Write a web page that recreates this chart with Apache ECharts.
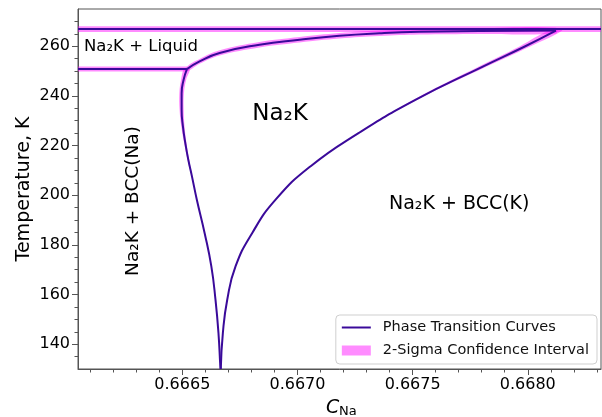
<!DOCTYPE html>
<html><head><meta charset="utf-8">
<script src="https://cdn.jsdelivr.net/npm/echarts@6/dist/echarts.min.js"></script>
<style>html,body{margin:0;padding:0;background:#fff}#c{width:602px;height:417px}</style>
</head><body><div id="c"></div>
<script>
// Axis ranges and ticks
const xMin = 0.666047, xMax = 0.668318, yMin = 130, yMax = 275;
const xMajorTicks = [0.6665, 0.6670, 0.6675, 0.6680];
const xTickLabels = ['0.6665', '0.6670', '0.6675', '0.6680'];
const xMinorTicks = [0.6661,0.6662,0.6663,0.6664,0.6666,0.6667,0.6668,0.6669,0.6671,0.6672,0.6673,0.6674,0.6676,0.6677,0.6678,0.6679,0.6681,0.6682,0.6683];
const yMajorTicks = [140,160,180,200,220,240,260];
const yTickLabels = ['140','160','180','200','220','240','260'];
const yMinorTicks = [135,145,150,155,165,170,175,185,190,195,205,210,215,225,230,235,245,250,255,265,270];

// Upper horizontal line with sigma in T
const topLineC = [0.666047, 0.668318];
const topLineT = [266.9, 266.9];
const topLineSigT = [1.15, 1.15];

// Lower horizontal line with sigma in T
const lowLineC = [0.666047, 0.666520];
const lowLineT = [250.8, 250.8];
const lowLineSigT = [1.0, 1.0];

// Left boundary (Na2K | Na2K+BCC(Na)) with sigma in C
const leftC = [0.666520,0.6665056,0.666497,0.666497,0.6665026,0.666513,0.666526,0.666542,0.666563,0.666597,0.666626,0.666644,0.666657,0.666665,0.6666661];
const leftT = [250.8,246.5,241.1,234.4,227.7,221.0,214.3,207.5,198.2,184.7,171.3,157.9,144.4,131.0,130];
const leftSigC = [1.2e-5,1.1e-5,1.0e-5,9e-6,7e-6,5e-6,3.5e-6,2e-6,0.8e-6,0,0,0,0,0,0];

// Right boundary (Na2K | Na2K+BCC(K)) with sigma in C
const rightC = [0.666667,0.666676,0.666695,0.666731,0.666803,0.666905,0.667056,0.667265,0.667512,0.667807,0.667987,0.668122];
const rightT = [130,144.45,157.9,171.3,184.7,198.2,211.6,225.0,238.4,251.9,259.9,266.3];
const rightSigC = [0,0,0,0,0,0.5e-6,1e-6,3e-6,8e-6,1.7e-5,2.3e-5,2.7e-5];

// Upper boundary (Na2K | Na2K+Liquid) with sigma in T
const liqC = [0.666520,0.666575,0.666662,0.666835,0.667009,0.667182,0.667356,0.667529,0.667789,0.668122];
const liqT = [250.8,253.9,257.3,260.6,262.6,264.2,265.2,265.8,266.1,266.3];
const liqSigT = [1.0,1.0,1.05,1.1,1.1,1.1,1.1,1.1,1.15,1.15];

const lineColor = '#3a0a9a';
const bandColor = 'rgba(255,0,255,0.45)';
const FONT = 'DejaVu Sans';

const zip = (a, b) => a.map((v, i) => [v, b[i]]);
const bands = [
  {c: topLineC, t: topLineT, s: topLineSigT, dir: 't'},
  {c: lowLineC, t: lowLineT, s: lowLineSigT, dir: 't'},
  {c: leftC, t: leftT, s: leftSigC, dir: 'c'},
  {c: rightC, t: rightT, s: rightSigC, dir: 'c'},
  {c: liqC, t: liqT, s: liqSigT, dir: 't'}
];

function renderBand(params, api) {
  const b = bands[params.dataIndex];
  const up = [], lo = [];
  for (let i = 0; i < b.c.length; i++) {
    if (b.dir === 'c') {
      up.push(api.coord([b.c[i] + b.s[i], b.t[i]]));
      lo.push(api.coord([b.c[i] - b.s[i], b.t[i]]));
    } else {
      up.push(api.coord([b.c[i], b.t[i] + b.s[i]]));
      lo.push(api.coord([b.c[i], b.t[i] - b.s[i]]));
    }
  }
  return {
    type: 'polygon',
    shape: {points: up.concat(lo.reverse()), smooth: b.c.length > 2 ? 0.4 : 0},
    style: {fill: bandColor}
  };
}

const curveSeries = (data) => ({
  type: 'line', name: 'Phase Transition Curves', data: data,
  xAxisIndex: 0, yAxisIndex: 0,
  symbol: 'none', showSymbol: false, smooth: data.length > 2 ? 0.5 : false,
  lineStyle: {color: lineColor, width: 2}, itemStyle: {color: lineColor},
  z: 3, silent: true, animation: false
});

const axisColor = '#555';
const chart = echarts.init(document.getElementById('c'), null, {renderer: 'canvas'});
chart.setOption({
  animation: false,
  backgroundColor: '#fff',
  textStyle: {fontFamily: FONT},
  grid: {left: 78, right: 1, top: 9, bottom: 48, show: true, borderColor: axisColor, borderWidth: 1, backgroundColor: 'transparent'},
  legend: {
    orient: 'vertical', right: 5, top: 315,
    padding: [5, 8, 6, 6], itemGap: 8, itemWidth: 29, itemHeight: 10,
    backgroundColor: 'rgba(255,255,255,0.85)', borderColor: '#cfcfcf', borderWidth: 1, borderRadius: 4,
    textStyle: {fontFamily: FONT, fontSize: 14.5, color: '#111', padding: [0, 0, 0, 7]},
    data: [
      {name: 'Phase Transition Curves', icon: 'path://M0,0 L29,0 L29,2 L0,2 Z'},
      {name: '2-Sigma Confidence Interval', icon: 'rect'}
    ],
    selectedMode: false
  },
  xAxis: [
    {type: 'value', min: xMin, max: xMax, position: 'bottom',
      axisLine: {show: true, onZero: false, lineStyle: {color: axisColor, width: 1}},
      axisTick: {show: true, length: 6, customValues: xMajorTicks, lineStyle: {color: axisColor}},
      axisLabel: {show: true, customValues: xMajorTicks, margin: 8, color: '#000', fontSize: 16, fontFamily: FONT,
        formatter: (v) => { const i = xMajorTicks.findIndex(t => Math.abs(t - v) < 1e-9); return i >= 0 ? xTickLabels[i] : ''; }},
      splitLine: {show: false}},
    {type: 'value', min: xMin, max: xMax, position: 'bottom',
      axisLine: {show: false, onZero: false},
      axisTick: {show: true, length: 3.5, customValues: xMinorTicks, lineStyle: {color: axisColor}},
      axisLabel: {show: false}, splitLine: {show: false}}
  ],
  yAxis: [
    {type: 'value', min: yMin, max: yMax, position: 'left',
      name: 'Temperature, K', nameLocation: 'middle', nameGap: 44, nameRotate: 90, nameMoveOverlap: false,
      nameTextStyle: {fontFamily: FONT, fontSize: 19, color: '#000'},
      axisLine: {show: true, onZero: false, lineStyle: {color: axisColor, width: 1}},
      axisTick: {show: true, length: 6, customValues: yMajorTicks, lineStyle: {color: axisColor}},
      axisLabel: {show: true, customValues: yMajorTicks, margin: 8, color: '#000', fontSize: 16, fontFamily: FONT,
        formatter: (v) => { const i = yMajorTicks.findIndex(t => Math.abs(t - v) < 1e-9); return i >= 0 ? yTickLabels[i] : ''; }},
      splitLine: {show: false}},
    {type: 'value', min: yMin, max: yMax, position: 'left',
      axisLine: {show: false, onZero: false},
      axisTick: {show: true, length: 3.5, customValues: yMinorTicks, lineStyle: {color: axisColor}},
      axisLabel: {show: false}, splitLine: {show: false}}
  ],
  series: [
    {type: 'custom', name: '2-Sigma Confidence Interval', xAxisIndex: 0, yAxisIndex: 0,
      renderItem: renderBand, data: bands.map((b, i) => [b.c[0], b.t[0], i]),
      encode: {x: 0, y: 1}, itemStyle: {color: bandColor}, z: 2, silent: true, animation: false},
    curveSeries(zip(topLineC, topLineT)),
    curveSeries(zip(lowLineC, lowLineT)),
    curveSeries(zip(leftC, leftT)),
    curveSeries(zip(rightC, rightT)),
    curveSeries(zip(liqC, liqT))
  ],
  graphic: [
    {type: 'text', x: 84, y: 47, silent: true, style: {text: 'Na₂K + Liquid', font: '16.5px "DejaVu Sans"', fill: '#000', textAlign: 'left', textVerticalAlign: 'middle'}},
    {type: 'text', x: 280, y: 114, silent: true, style: {text: 'Na₂K', font: '23px "DejaVu Sans"', fill: '#000', textAlign: 'center', textVerticalAlign: 'middle'}},
    {type: 'text', x: 389, y: 204, silent: true, style: {text: 'Na₂K + BCC(K)', font: '19px "DejaVu Sans"', fill: '#000', textAlign: 'left', textVerticalAlign: 'middle'}},
    {type: 'text', x: 133, y: 201, rotation: Math.PI / 2, silent: true, style: {text: 'Na₂K + BCC(Na)', font: '18.5px "DejaVu Sans"', fill: '#000', textAlign: 'center', textVerticalAlign: 'middle'}},
    {type: 'text', x: 326, y: 408, silent: true, style: {text: 'C', font: 'italic 19px "DejaVu Sans"', fill: '#000', textAlign: 'left', textVerticalAlign: 'middle'}},
    {type: 'text', x: 339, y: 412, silent: true, style: {text: 'Na', font: '13px "DejaVu Sans"', fill: '#000', textAlign: 'left', textVerticalAlign: 'middle'}}
  ]
});
</script>
</body></html>
